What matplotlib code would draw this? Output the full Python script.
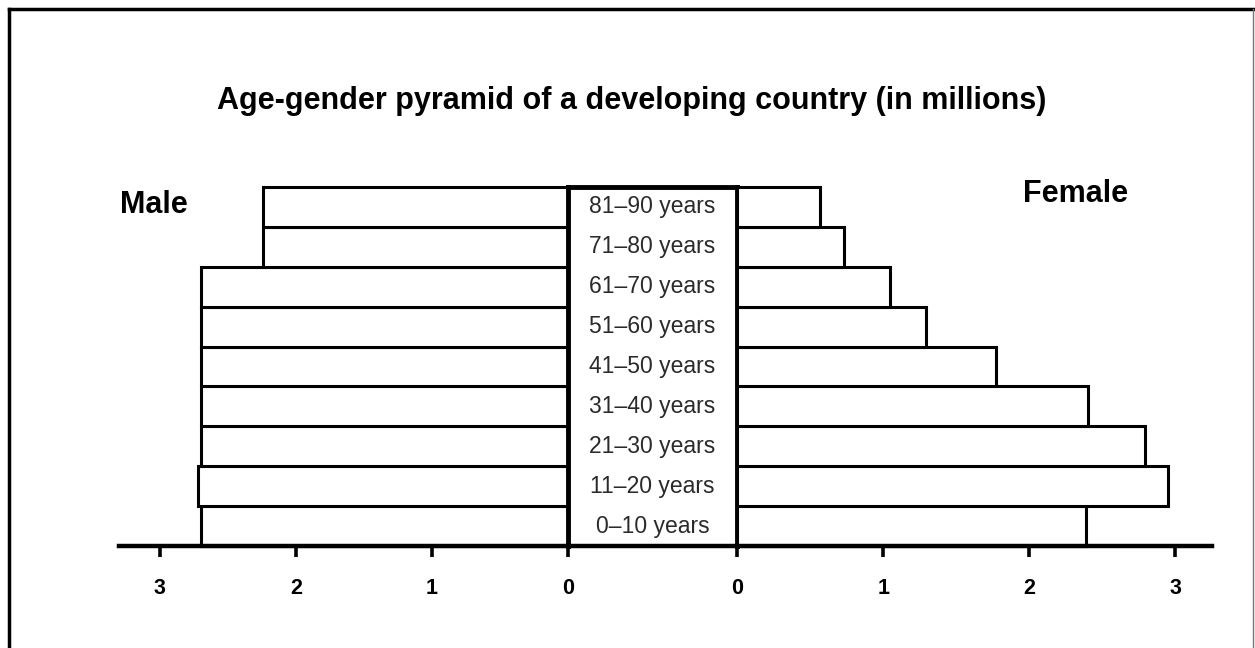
import matplotlib
matplotlib.use("Agg")
import matplotlib.pyplot as plt
from matplotlib.lines import Line2D

plt.rcParams['font.family'] = ['Liberation Sans', 'DejaVu Sans']

# ---- data (bottom to top) ----
age_groups = ["0\u201310 years", "11\u201320 years", "21\u201330 years", "31\u201340 years",
              "41\u201350 years", "51\u201360 years", "61\u201370 years", "71\u201380 years",
              "81\u201390 years"]
male = [2.70, 2.72, 2.70, 2.70, 2.70, 2.70, 2.70, 2.24, 2.24]
female = [2.39, 2.95, 2.79, 2.40, 1.77, 1.29, 1.05, 0.73, 0.57]
male_ticks = [3, 2, 1, 0]
female_ticks = [0, 1, 2, 3]

W, H = 1255, 648
fig = plt.figure(figsize=(W / 100, H / 100), dpi=100)
fig.patch.set_facecolor("white")

def fx(px):
    return px / W

def fy(py):
    return 1 - py / H

ax_bottom = fy(546)
ax_height = (546 - 187) / H

ax_m = fig.add_axes([fx(119), ax_bottom, fx(568 - 119), ax_height])
ax_c = fig.add_axes([fx(568), ax_bottom, fx(737 - 568), ax_height])
ax_f = fig.add_axes([fx(737), ax_bottom, fx(1212 - 737), ax_height])

ypos = list(range(len(age_groups)))
bar_kw = dict(height=1.0, align="edge", color="white", edgecolor="black",
              linewidth=2.2, clip_on=False, zorder=2)

ax_m.barh(ypos, male, **bar_kw)
ax_f.barh(ypos, female, **bar_kw)

ax_m.set_xlim(3.30, 0)
ax_f.set_xlim(0, 3.25)
for ax in (ax_m, ax_f, ax_c):
    ax.set_ylim(0, len(age_groups))
    ax.set_facecolor("none")
    ax.set_yticks([])
    for s in ("left", "right", "top"):
        ax.spines[s].set_visible(False)
    ax.spines["bottom"].set_linewidth(3.2)
    ax.spines["bottom"].set_zorder(5)

ax_m.set_xticks(male_ticks)
ax_m.set_xticklabels([str(t) for t in male_ticks])
ax_f.set_xticks(female_ticks)
ax_f.set_xticklabels([str(t) for t in female_ticks])
for ax in (ax_m, ax_f):
    ax.tick_params(axis="x", direction="out", length=8, width=2.6, pad=15,
                   labelsize=15.5)
    for lbl in ax.get_xticklabels():
        lbl.set_fontweight("bold")

# centre column with age labels
ax_c.set_xlim(0, 1)
ax_c.set_xticks([])
for s in ("left", "right", "top"):
    ax_c.spines[s].set_visible(True)
    ax_c.spines[s].set_linewidth(3.5)
    ax_c.spines[s].set_zorder(5)
for y, lab in zip(ypos, age_groups):
    ax_c.text(0.5, y + 0.5, lab, ha="center", va="center", fontsize=16.5,
              color="#2a2a2a")

# titles
fig.text(fx(632), fy(101), "Age-gender pyramid of a developing country (in millions)",
         ha="center", va="center", fontsize=22, fontweight="bold")
fig.text(fx(120), fy(205), "Male", ha="left", va="center", fontsize=22,
         fontweight="bold")
fig.text(fx(1023), fy(194), "Female", ha="left", va="center", fontsize=22,
         fontweight="bold")

# outer frame (open at bottom)
fig.add_artist(Line2D([fx(9), fx(9)], [0, fy(9)], color="black", linewidth=2.5))
fig.add_artist(Line2D([fx(9), fx(1253)], [fy(9), fy(9)], color="black", linewidth=2.5))
fig.add_artist(Line2D([fx(1253), fx(1253)], [0, fy(9)], color="#777777", linewidth=1.0))

fig.savefig("out.png", dpi=100, facecolor="white")
